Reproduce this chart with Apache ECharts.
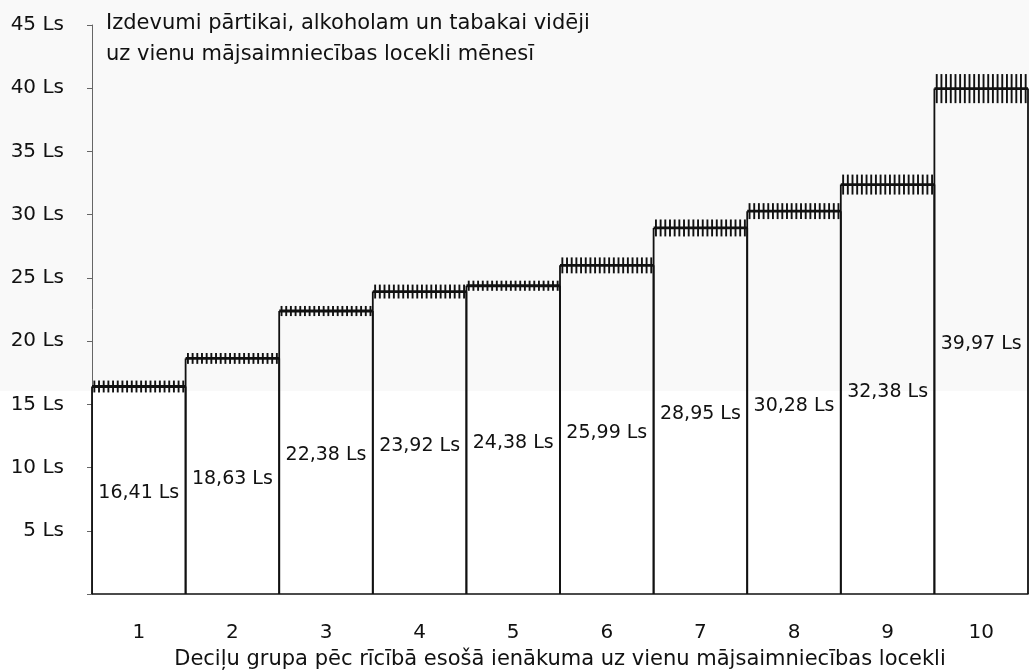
<!DOCTYPE html>
<html>
<head>
<meta charset="utf-8">
<script src="https://cdn.jsdelivr.net/npm/echarts@6/dist/echarts.min.js"></script>
<style>
html,body{margin:0;padding:0;background:#fff;}
#chart{width:1029px;height:671px;}
</style>
</head>
<body>
<div id="chart"></div>
<script>
const categories = ['1', '2', '3', '4', '5', '6', '7', '8', '9', '10'];
const values = [16.41, 18.63, 22.38, 23.92, 24.38, 25.99, 28.95, 30.28, 32.38, 39.97];
const hatchHalf = [0.47, 0.43, 0.40, 0.55, 0.40, 0.63, 0.67, 0.63, 0.79, 1.15];
const yMin = 0, yMax = 45, yStep = 5;
const titleLines = ['Izdevumi pārtikai, alkoholam un tabakai vidēji', 'uz vienu mājsaimniecības locekli mēnesī'];
const xName = 'Deciļu grupa pēc rīcībā esošā ienākuma uz vienu mājsaimniecības locekli';

const FONT = '"DejaVu Sans", "Liberation Sans", Arial, sans-serif';
const INK = '#111111';

const chart = echarts.init(document.getElementById('chart'), null, {renderer: 'canvas'});

function fmt(v) { return v.toFixed(2).replace('.', ',') + ' Ls'; }

function renderItem(params, api) {
  const idx = api.value(0), v = api.value(1), h = api.value(2);
  const base = api.coord([idx, 0]);
  const top = api.coord([idx, v]);
  const w = api.size([1, 0])[0];
  const x0 = base[0] - w / 2, x1 = base[0] + w / 2;
  const yHi = api.coord([idx, v + h])[1];
  const yLo = api.coord([idx, v - h])[1];
  const children = [];
  const sideStyle = {stroke: INK, lineWidth: 1.8, fill: null};
  children.push({type: 'line', shape: {x1: x0, y1: base[1], x2: x0, y2: top[1]}, style: sideStyle});
  children.push({type: 'line', shape: {x1: x1, y1: base[1], x2: x1, y2: top[1]}, style: sideStyle});
  children.push({type: 'line', shape: {x1: x0, y1: top[1], x2: x1, y2: top[1]}, style: {stroke: INK, lineWidth: 2.8}});
  const n = Math.round(w / 4.8);
  for (let k = 0; k < n; k++) {
    const x = x0 + (k + 0.5) * w / n;
    children.push({type: 'line', shape: {x1: x, y1: yHi, x2: x, y2: yLo}, style: {stroke: INK, lineWidth: 1.9}});
  }
  children.push({
    type: 'text',
    style: {
      text: fmt(v), x: base[0], y: (base[1] + top[1]) / 2 + 3,
      align: 'center', verticalAlign: 'middle',
      fontFamily: FONT, fontSize: 19, fill: INK
    }
  });
  return {type: 'group', children: children};
}

const option = {
  backgroundColor: '#ffffff',
  animation: false,
  graphic: [{
    type: 'rect', left: 0, top: 0, z: -10,
    shape: {width: 1029, height: 391},
    style: {fill: '#f9f9f9'}, silent: true
  }],
  title: {
    text: titleLines.join('\n'),
    left: 106, top: 8, padding: 0,
    textStyle: {fontFamily: FONT, fontSize: 21, fontWeight: 'normal', color: INK, lineHeight: 31}
  },
  grid: {left: 92, right: 1, top: 25, bottom: 77, containLabel: false, outerBoundsMode: 'none'},
  xAxis: {
    type: 'category', data: categories, boundaryGap: true,
    axisLine: {show: true, lineStyle: {color: INK, width: 1.6}},
    axisTick: {show: false},
    axisLabel: {margin: 29, fontFamily: FONT, fontSize: 20, color: INK},
    name: xName, nameLocation: 'middle', nameGap: 55,
    nameTextStyle: {fontFamily: FONT, fontSize: 21, color: INK}
  },
  yAxis: {
    type: 'value', min: yMin, max: yMax, interval: yStep,
    axisLine: {show: true, lineStyle: {color: '#666', width: 1}},
    axisTick: {show: true, length: 5, lineStyle: {color: '#666'}},
    splitLine: {show: false},
    axisLabel: {margin: 28, fontFamily: FONT, fontSize: 20, color: INK, formatter: v => v === 0 ? '' : v + ' Ls'}
  },
  series: [{
    type: 'custom',
    renderItem: renderItem,
    encode: {x: 0, y: 1},
    data: values.map((v, i) => [i, v, hatchHalf[i]]),
    z: 5
  }]
};
chart.setOption(option);
</script>
</body>
</html>
